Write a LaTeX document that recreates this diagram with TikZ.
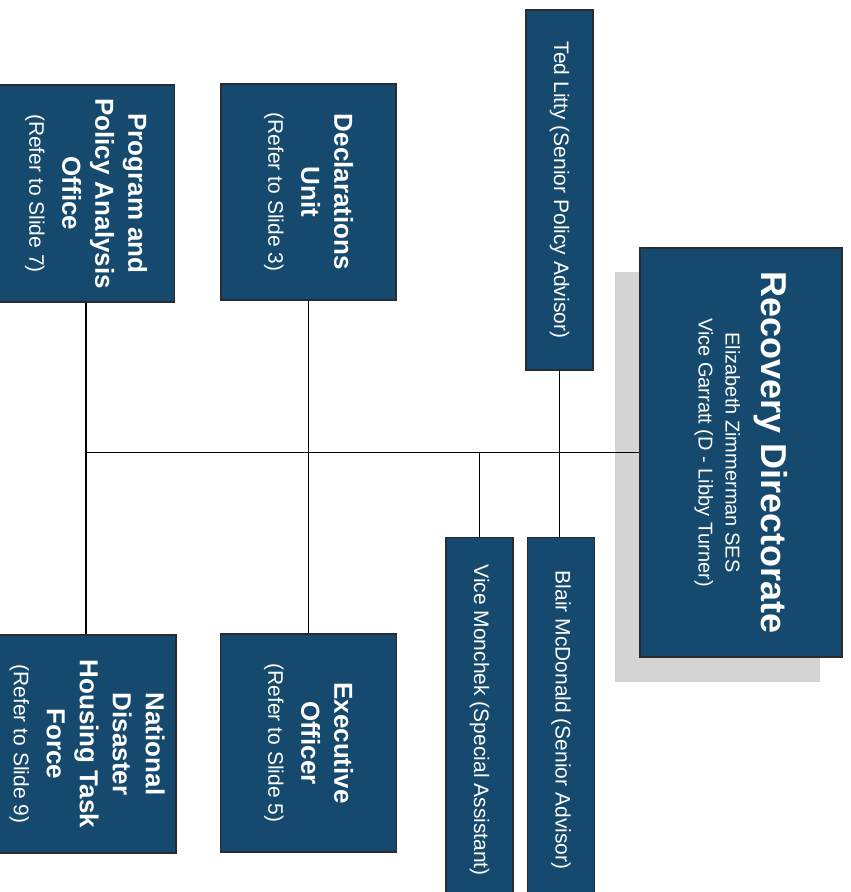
\documentclass[tikz,border=0pt]{standalone}
\usepackage{fontspec}
\setmainfont{Liberation Sans}
\definecolor{boxblue}{RGB}{22,73,110}
\definecolor{boxedge}{RGB}{40,44,48}
\definecolor{shadowgray}{RGB}{212,212,212}
\tikzset{
  orgbox/.style={draw=boxedge, line width=1.3pt, fill=boxblue, text=white,
    rotate=-90, align=center, inner sep=2pt},
  unitbox/.style={orgbox, font=\fontsize{26}{33}\selectfont\bfseries},
  link/.style={draw=black, line width=1.3pt},
}
\newcommand{\smalltext}{\fontsize{21}{33}\selectfont\mdseries}
\begin{document}
\begin{tikzpicture}[x=1pt,y=1pt]
\useasboundingbox (0,0) rectangle (851,-892);
% shadow of the directorate box
\fill[shadowgray] (615,-272) rectangle (820,-682);
% directorate
\node[orgbox, font=\fontsize{20}{27}\selectfont, minimum width=409pt, minimum height=202pt] (rd) at (741,-452.5)
  {{\fontsize{36}{40}\selectfont\bfseries Recovery Directorate}\\[9pt]
   Elizabeth Zimmerman SES\\
   Vice Garratt (D - Libby Turner)};
% advisors
\node[orgbox, font=\fontsize{21}{25}\selectfont, minimum width=360pt, minimum height=67pt] (ted) at (559.5,-190)
  {Ted Litty (Senior Policy Advisor)};
\node[orgbox, font=\fontsize{21}{25}\selectfont, minimum width=365pt, minimum height=67pt, anchor=west] (blair) at (561,-537)
  {Blair McDonald (Senior Advisor)};
\node[orgbox, font=\fontsize{21}{25}\selectfont, minimum width=365pt, minimum height=67pt, anchor=west] (vice) at (479.5,-537)
  {Vice Monchek (Special Assistant)};
% units
\node[unitbox, minimum width=216pt, minimum height=175pt] (decl) at (308.5,-192)
  {Declarations\\Unit\\\smalltext (Refer to Slide 3)};
\node[unitbox, minimum width=218pt, minimum height=176pt] (exec) at (308.5,-743)
  {Executive\\Officer\\\smalltext (Refer to Slide 5)};
\node[unitbox, minimum width=217pt, minimum height=177pt] (prog) at (86,-193.5)
  {Program and\\Policy Analysis\\Office\\\smalltext (Refer to Slide 7)};
\node[unitbox, minimum width=218pt, minimum height=178pt] (natl) at (87,-744)
  {National\\Disaster\\Housing Task\\Force\\\smalltext (Refer to Slide 9)};
% connectors
\draw[link] (rd.south) -- (rd.south -| prog.east);
\draw[link] (ted.east) -- (ted.east |- blair.west);
\draw[link] (vice.west) -- (vice.west |- rd.south);
\draw[link] (decl.east) -- (decl.east |- exec.west);
\draw[link] (prog.east) -- (prog.east |- natl.west);
\end{tikzpicture}
\end{document}
